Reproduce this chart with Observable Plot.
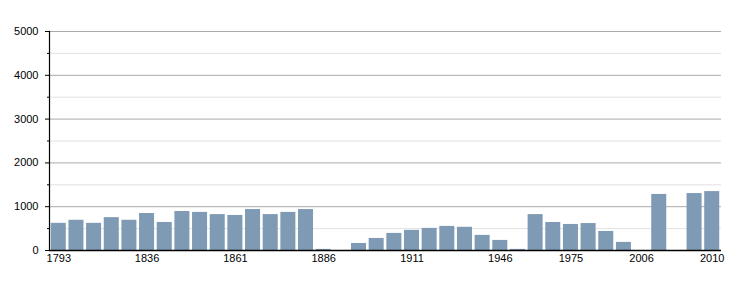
<!DOCTYPE html>
<html>
<head>
<meta charset="utf-8">
<script src="https://cdn.jsdelivr.net/npm/d3@7"></script>
<script src="https://cdn.jsdelivr.net/npm/@observablehq/plot@0.6"></script>
<style>
  html, body { margin: 0; padding: 0; background: #fff; }
  #chart svg { display: block; }
</style>
</head>
<body>
<div id="chart"></div>
<script>
const years = ["1793","1800","1806","1821","1831","1836","1841","1846","1851","1856",
  "1861","1866","1872","1876","1881","1886","1891","1896","1901","1906",
  "1911","1921","1926","1931","1936","1946","1954","1962","1968","1975",
  "1982","1990","1999","2006","2007","2008","2009","2010"];
const population = [620, 690, 620, 750, 690, 845, 640, 890, 870, 820,
  800, 935, 820, 870, 935, 25, null, 160, 275, 390,
  460, 505, 550, 530, 345, 230, 25, 820, 640, 595,
  615, 435, 185, null, 1280, null, 1300, 1345];
const tickYears = ["1793","1836","1861","1886","1911","1946","1975","2006","2010"];
const majorTicks = [0, 1000, 2000, 3000, 4000, 5000];
const minorTicks = [500, 1500, 2500, 3500, 4500];

const data = years.map((year, i) => ({year, population: population[i]}))
  .filter(d => d.population != null);

const chart = Plot.plot({
  width: 750,
  height: 300,
  marginLeft: 49,
  marginRight: 29,
  marginTop: 31,
  marginBottom: 50,
  style: {fontFamily: "'Liberation Sans', Arial, sans-serif", fontSize: "11px", color: "#000", background: "#fff"},
  x: {domain: years, paddingInner: 0.15, paddingOuter: 0.1, round: false, label: null},
  y: {domain: [0, 5000], label: null},
  marks: [
    Plot.gridY(minorTicks, {stroke: "#e2e2e2", strokeOpacity: 1}),
    Plot.gridY(majorTicks, {stroke: "#aaaaaa", strokeOpacity: 1}),
    Plot.barY(data, {x: "year", y: "population", fill: "#7f9ab4"}),
    Plot.axisY(majorTicks, {tickSize: 4, tickPadding: 7, tickFormat: d3.format("d"), label: null, stroke: "#000", fill: "#000"}),
    Plot.axisY(minorTicks, {tickSize: 2, tickFormat: () => "", label: null, stroke: "#000"}),
    Plot.axisX(tickYears, {tickSize: 0, tickPadding: 4, label: null, fill: "#000"}),
    Plot.frame({anchor: "left", stroke: "#000", strokeWidth: 1.2}),
    Plot.ruleY([0], {stroke: "#000", strokeWidth: 1.5})
  ]
});
document.getElementById("chart").appendChild(chart);
</script>
</body>
</html>
